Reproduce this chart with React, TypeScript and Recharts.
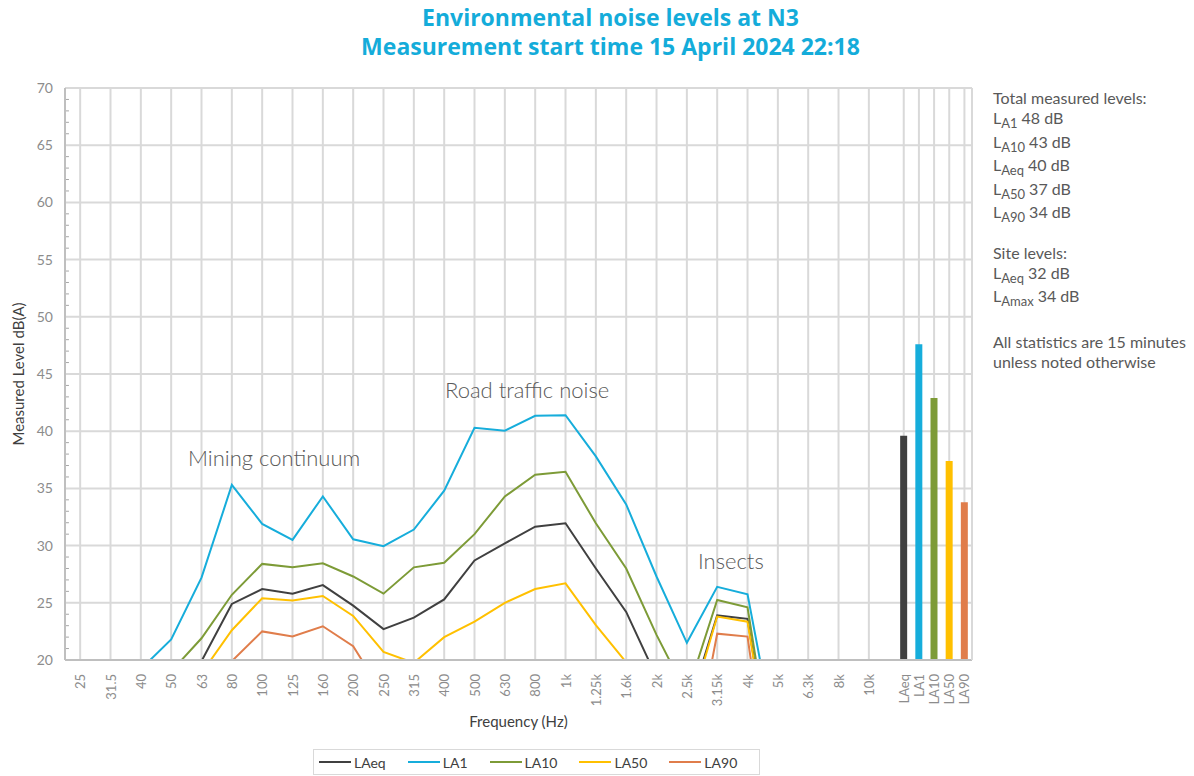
import React from 'react';
import {
  ComposedChart,
  Line,
  Bar,
  Cell,
  XAxis,
  YAxis,
  CartesianGrid,
  Legend,
  ReferenceLine,
} from 'recharts';

// ---------- data ----------
const freqLabels = [
  '25', '31.5', '40', '50', '63', '80', '100', '125', '160', '200', '250', '315', '400',
  '500', '630', '800', '1k', '1.25k', '1.6k', '2k', '2.5k', '3.15k', '4k', '5k', '6.3k', '8k', '10k',
];

const laeq = [14, 14, 15, 17, 19.9, 24.9, 26.2, 25.8, 26.55, 24.75, 22.7, 23.7, 25.3, 28.7, 30.2, 31.65, 31.95, 28.0, 24.2, 18.5, 15.3, 23.9, 23.6, 7.2, null, null, null];
const la1 = [16, 17, 19.2, 21.8, 27.2, 35.3, 31.9, 30.5, 34.3, 30.55, 29.95, 31.4, 34.8, 40.3, 40.05, 41.35, 41.4, 37.8, 33.6, 27.3, 21.5, 26.4, 25.75, 11.8, null, null, null];
const la10 = [14, 15, 16.5, 19.0, 21.9, 25.7, 28.4, 28.1, 28.45, 27.3, 25.8, 28.1, 28.5, 31.0, 34.3, 36.2, 36.45, 31.95, 28.0, 22.2, 17, 25.25, 24.6, 8, null, null, null];
const la50 = [13, 14, 15, 16.5, 18.85, 22.6, 25.4, 25.2, 25.6, 23.85, 20.7, 19.75, 22.0, 23.35, 25.0, 26.2, 26.7, 23.05, 19.8, 16.5, 14.8, 23.8, 23.35, 7, null, null, null];
const la90 = [12, 13, 14, 15, 17.5, 19.9, 22.5, 22.05, 22.95, 21.2, 17, 17, 17.5, 18, 18.5, 19, 19.2, 17.5, 16, 13, 8.5, 22.3, 22.05, 3.5, null, null, null];

const totalLabels = ['LAeq', 'LA1', 'LA10', 'LA50', 'LA90'];
const totalValues = [39.6, 47.6, 42.9, 37.4, 33.8];

const yTicks = [20, 25, 30, 35, 40, 45, 50, 55, 60, 65, 70];
const yMinorTicks = Array.from({ length: 49 }, (_, i) => 21 + i).filter((v) => v % 5 !== 0);

// ---------- styles ----------
const COLORS: Record<string, string> = {
  LAeq: '#404040',
  LA1: '#16ADDB',
  LA10: '#7D9B37',
  LA50: '#FFC000',
  LA90: '#E07D4B',
};
const seriesNames = ['LAeq', 'LA1', 'LA10', 'LA50', 'LA90'];
const seriesArrays = [laeq, la1, la10, la50, la90];

const FONT = 'Lato, "Open Sans", sans-serif';
const GRID = '#D9D9D9';
const TICK_GRAY = '#8C8C8C';
const TEXT_DARK = '#404040';

const X_MIN = -0.5;
const X_MAX = 29.4;

// ---------- build table ----------
type Row = { x: number; label: string; [k: string]: number | string | null };
const rows: Row[] = [];
freqLabels.forEach((lab, i) => {
  const r: Row = { x: i, label: lab };
  seriesNames.forEach((s, k) => {
    r[s] = seriesArrays[k][i];
  });
  rows.push(r);
});
const barStart = freqLabels.length + 0.15;
totalLabels.forEach((lab, i) => {
  rows.push({ x: barStart + i * 0.5, label: lab, total: totalValues[i] });
});

const xTicks = rows.map((r) => r.x);
const labelOf = (v: number) => {
  const r = rows.find((rr) => Math.abs(rr.x - v) < 1e-6);
  return r ? r.label : '';
};

const XTick = (props: any) => {
  const { x, y, payload } = props;
  return (
    <text
      x={x}
      y={y + 6}
      transform={`rotate(-90 ${x} ${y + 6})`}
      textAnchor="end"
      dominantBaseline="central"
      fill={TICK_GRAY}
      fontSize={13}
      fontFamily={FONT}
    >
      {labelOf(payload.value)}
    </text>
  );
};

const LegendContent = () => (
  <div
    style={{
      display: 'flex',
      alignItems: 'center',
      border: '1px solid #D9D9D9',
      height: 26,
      boxSizing: 'border-box',
      padding: '0 0 0 5px',
      fontFamily: FONT,
      fontSize: 14,
      color: TEXT_DARK,
      background: '#fff',
    }}
  >
    {seriesNames.map((s) => (
      <div key={s} style={{ display: 'flex', alignItems: 'center', marginRight: 22 }}>
        <div style={{ width: 32, height: 2, background: COLORS[s], marginRight: 3 }} />
        <span>{s}</span>
      </div>
    ))}
  </div>
);

const Sub = ({ main, sub, rest, h }: { main: string; sub: string; rest: string; h: number }) => (
  <div style={{ height: h, display: 'flex', alignItems: 'baseline' }}>
    <span>{main}</span>
    <span style={{ fontSize: 13, position: 'relative', top: 4 }}>{sub}</span>
    <span style={{ marginLeft: 4 }}>{rest}</span>
  </div>
);

export default function App() {
  return (
    <div style={{ position: 'absolute', left: 0, top: 0, width: 1194, height: 776, background: '#fff', fontFamily: FONT }}>
      <div
        style={{
          position: 'absolute',
          left: 0,
          width: 1221,
          top: 3,
          textAlign: 'center',
          color: '#14ACDA',
          fontWeight: 700,
          fontSize: 23,
          lineHeight: '29px',
          fontFamily: '"Open Sans", sans-serif',
        }}
      >
        <div>Environmental noise levels at N3</div>
        <div>Measurement start time 15 April 2024 22:18</div>
      </div>

      <ComposedChart
        width={1194}
        height={776}
        data={rows}
        margin={{ top: 88, right: 222, bottom: 40, left: 0 }}
      >
        <CartesianGrid stroke={GRID} strokeWidth={2} />
        {yMinorTicks.map((v) => (
          <ReferenceLine
            key={`m${v}`}
            segment={[{ x: X_MIN, y: v }, { x: X_MIN + 0.13, y: v }]}
            stroke="#A6A6A6"
            strokeWidth={1}
          />
        ))}
        <XAxis
          dataKey="x"
          type="number"
          domain={[X_MIN, X_MAX]}
          ticks={xTicks}
          interval={0}
          tick={<XTick />}
          tickLine={false}
          axisLine={{ stroke: '#BFBFBF', strokeWidth: 2 }}
          height={76}
          allowDataOverflow
          label={{
            value: 'Frequency (Hz)',
            position: 'insideBottom',
            offset: 9,
            fill: TEXT_DARK,
            fontSize: 15,
            fontFamily: FONT,
          }}
        />
        <YAxis
          type="number"
          domain={[20, 70]}
          ticks={yTicks}
          allowDataOverflow
          width={65}
          tickLine={false}
          tickSize={6}
          tickMargin={6}
          axisLine={{ stroke: '#BFBFBF', strokeWidth: 2 }}
          tick={{ fill: TICK_GRAY, fontSize: 14, fontFamily: FONT }}
          label={{
            value: 'Measured Level dB(A)',
            angle: -90,
            position: 'insideLeft',
            offset: 19,
            style: { textAnchor: 'middle' },
            fill: TEXT_DARK,
            fontSize: 15,
            fontFamily: FONT,
          }}
        />
        <YAxis
          yAxisId="right"
          orientation="right"
          width={1}
          mirror
          domain={[20, 70]}
          tick={false}
          tickLine={false}
          axisLine={{ stroke: GRID, strokeWidth: 2 }}
        />
        <Legend
          layout="horizontal"
          verticalAlign="middle"
          align="center"
          content={<LegendContent />}
          wrapperStyle={{ top: 749, left: 313, width: 'auto' }}
        />
        <Bar dataKey="total" barSize={7} isAnimationActive={false} legendType="none">
          {rows.map((r, i) => (
            <Cell key={i} fill={COLORS[r.label] || '#000'} />
          ))}
        </Bar>
        {seriesNames.map((s) => (
          <Line
            key={s}
            type="linear"
            dataKey={s}
            stroke={COLORS[s]}
            strokeWidth={2}
            dot={false}
            activeDot={false}
            isAnimationActive={false}
          />
        ))}
      </ComposedChart>

      {/* annotations */}
      <div style={{ position: 'absolute', left: 188, top: 444, fontSize: 22, fontWeight: 300, color: '#595959', whiteSpace: 'nowrap' }}>
        Mining continuum
      </div>
      <div style={{ position: 'absolute', left: 445, top: 376, fontSize: 22, fontWeight: 300, color: '#595959', whiteSpace: 'nowrap' }}>
        Road traffic noise
      </div>
      <div style={{ position: 'absolute', left: 698, top: 547, fontSize: 22, fontWeight: 300, color: '#595959', whiteSpace: 'nowrap' }}>
        Insects
      </div>

      {/* right side text */}
      <div style={{ position: 'absolute', left: 993, top: 86, fontSize: 16, color: '#595959', lineHeight: '24px' }}>
        <div style={{ height: 20 }}>Total measured levels:</div>
        <Sub main="L" sub="A1" rest="48 dB" h={23.5} />
        <Sub main="L" sub="A10" rest="43 dB" h={23.5} />
        <Sub main="L" sub="Aeq" rest="40 dB" h={23.5} />
        <Sub main="L" sub="A50" rest="37 dB" h={23.5} />
        <Sub main="L" sub="A90" rest="34 dB" h={23.5} />
        <div style={{ height: 17 }} />
        <div style={{ height: 20 }}>Site levels:</div>
        <Sub main="L" sub="Aeq" rest="32 dB" h={23.5} />
        <Sub main="L" sub="Amax" rest="34 dB" h={23.5} />
        <div style={{ height: 24 }} />
        <div style={{ lineHeight: '20px' }}>All statistics are 15 minutes</div>
        <div style={{ lineHeight: '20px' }}>unless noted otherwise</div>
      </div>
    </div>
  );
}
